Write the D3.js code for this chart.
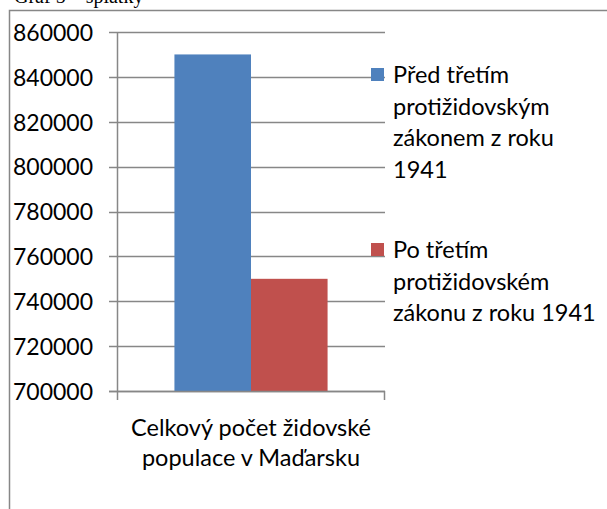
<!DOCTYPE html>
<html>
<head>
<meta charset="utf-8">
<script src="https://cdn.jsdelivr.net/npm/d3@7"></script>
<style>
  body { margin: 0; background: #fff; }
  text { font-family: Lato, "Open Sans", sans-serif; fill: #000; }
</style>
</head>
<body>
<div id="chart"></div>
<script>
// data
const categories = ["Celkový počet židovské populace v Maďarsku"];
const categoryLines = ["Celkový počet židovské", "populace v Maďarsku"];
const seriesNames = [
  "Před třetím protižidovským zákonem z roku 1941",
  "Po třetím protižidovském zákonu z roku 1941"
];
const seriesLines = [
  ["Před třetím", "protižidovským", "zákonem z roku", "1941"],
  ["Po třetím", "protižidovském", "zákonu z roku 1941"]
];
const seriesValues = [850000, 750000];
const seriesColors = ["#4F81BD", "#C0504D"];
const yTicks = [700000, 720000, 740000, 760000, 780000, 800000, 820000, 840000, 860000];

const width = 607,
  height = 509,
  plot = { left: 117, right: 385, top: 32, bottom: 391 },
  gray = "#878787";

const svg = d3.select("#chart")
  .append("svg")
  .attr("width", width)
  .attr("height", height);

// cut off caption from the page above
svg.append("text")
  .attr("x", 14)
  .attr("y", 3)
  .style("font-family", "'Liberation Serif', serif")
  .style("font-size", "20px")
  .text("Graf 5 – splátky");

// chart frame (runs off the picture on right and bottom)
svg.append("rect")
  .attr("x", 9.5)
  .attr("y", 10.5)
  .attr("width", 700)
  .attr("height", 600)
  .attr("fill", "#fff")
  .attr("stroke", gray)
  .attr("stroke-width", 1.5);

// SCALES
const yScale = d3.scaleLinear()
  .domain([700000, 860000])
  .range([plot.bottom, plot.top]);

const xScale = d3.scaleBand()
  .domain(categories)
  .range([plot.left, plot.right])
  .paddingInner(0)
  .paddingOuter(0.375);

const xSeries = d3.scaleBand()
  .domain(seriesNames)
  .range([0, xScale.bandwidth()])
  .padding(0);

// gridlines (with the little tick outside the axis)
svg.append("g")
  .selectAll("line")
  .data(yTicks)
  .join("line")
  .attr("x1", plot.left - 8)
  .attr("x2", plot.right)
  .attr("y1", d => Math.round(yScale(d)) + 0.5)
  .attr("y2", d => Math.round(yScale(d)) + 0.5)
  .attr("stroke", gray)
  .attr("stroke-width", 1.5);

// bars
svg.append("g")
  .selectAll("rect")
  .data(seriesValues)
  .join("rect")
  .attr("x", (d, i) => xScale(categories[0]) + xSeries(seriesNames[i]))
  .attr("y", d => yScale(d))
  .attr("width", xSeries.bandwidth())
  .attr("height", d => yScale(700000) - yScale(d))
  .attr("fill", (d, i) => seriesColors[i]);

// y axis labels
const yAxis = d3.axisLeft(yScale).tickValues(yTicks).tickSize(0).tickPadding(0).tickFormat(d3.format("d"));
svg.append("g")
  .attr("transform", `translate(${plot.left - 24},0)`)
  .call(yAxis)
  .call(g => g.select(".domain").remove())
  .selectAll("text")
  .style("font-family", "Lato, sans-serif")
  .style("font-size", "23px")
  .attr("dy", "0.36em");

// axis lines
svg.append("line")
  .attr("x1", plot.left + 0.5).attr("x2", plot.left + 0.5)
  .attr("y1", plot.top).attr("y2", plot.bottom + 9)
  .attr("stroke", gray).attr("stroke-width", 1.5);
svg.append("line")
  .attr("x1", plot.left - 8).attr("x2", plot.right)
  .attr("y1", plot.bottom + 0.5).attr("y2", plot.bottom + 0.5)
  .attr("stroke", gray).attr("stroke-width", 1.5);
svg.append("line")
  .attr("x1", plot.right - 0.5).attr("x2", plot.right - 0.5)
  .attr("y1", plot.bottom).attr("y2", plot.bottom + 9)
  .attr("stroke", gray).attr("stroke-width", 1.5);

// category label
svg.append("text")
  .attr("text-anchor", "middle")
  .style("font-size", "23.5px")
  .selectAll("tspan")
  .data(categoryLines)
  .join("tspan")
  .attr("x", xScale(categories[0]) + xScale.bandwidth() / 2)
  .attr("y", (d, i) => 436 + i * 30)
  .text(d => d);

// legend
const legend = svg.append("g")
  .selectAll("g")
  .data(seriesNames)
  .join("g")
  .attr("transform", (d, i) => `translate(371,${68 + i * 175})`);

legend.append("rect")
  .attr("width", 13)
  .attr("height", 13)
  .attr("fill", (d, i) => seriesColors[i]);

legend.append("text")
  .style("font-size", "23.5px")
  .selectAll("tspan")
  .data((d, i) => seriesLines[i])
  .join("tspan")
  .attr("x", 22)
  .attr("y", (d, i) => 15 + i * 31.5)
  .text(d => d);
</script>
</body>
</html>
